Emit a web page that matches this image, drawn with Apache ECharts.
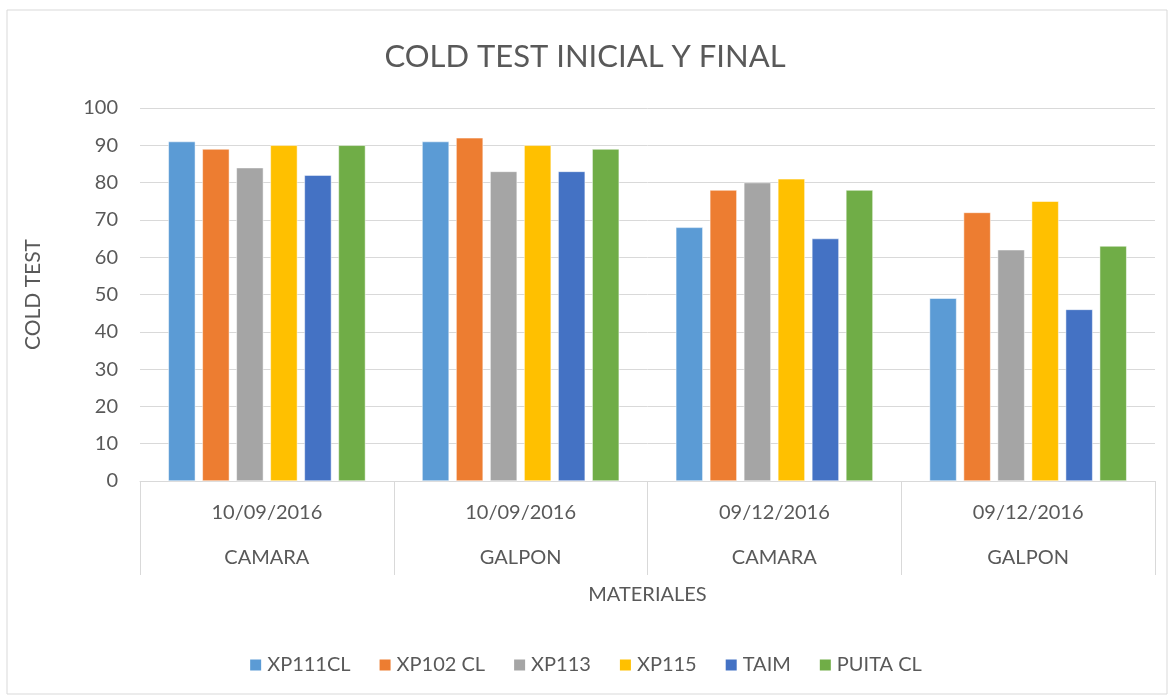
<!DOCTYPE html>
<html><head><meta charset="utf-8">
<script src="https://cdn.jsdelivr.net/npm/echarts@6/dist/echarts.min.js"></script>
<style>html,body{margin:0;padding:0;background:#fff}#c{width:1170px;height:697px}</style>
</head><body><div id="c"></div>
<script>
const dates = ["10/09/2016","10/09/2016","09/12/2016","09/12/2016"];
const places = ["CAMARA","GALPON","CAMARA","GALPON"];
const seriesNames = ["XP111CL","XP102 CL","XP113","XP115","TAIM","PUITA CL"];
const XP111CL = [91,91,68,49];
const XP102CL = [89,92,78,72];
const XP113 = [84,83,80,62];
const XP115 = [90,90,81,75];
const TAIM = [82,83,65,46];
const PUITACL = [90,89,78,63];
const values = [XP111CL,XP102CL,XP113,XP115,TAIM,PUITACL];
const colors = ["#5b9bd5","#ed7d31","#a5a5a5","#ffc000","#4472c4","#70ad47"];
const yTicks = {min:0,max:100,interval:10};
const font = "Lato, 'Open Sans', sans-serif";
const chart = echarts.init(document.getElementById('c'));
chart.setOption({
  animation:false,
  textStyle:{fontFamily:font},
  graphic:[{type:'rect',shape:{x:7,y:10,width:1160,height:684},style:{fill:'none',stroke:'#d9d9d9',lineWidth:1}}],
  title:{text:"COLD TEST INICIAL Y FINAL",left:'center',top:36,textStyle:{fontFamily:font,fontSize:31,fontWeight:'normal',color:'#595959'}},
  legend:{data:seriesNames,bottom:17,left:'center',itemWidth:13,itemHeight:13,itemGap:27,icon:'rect',
    textStyle:{fontFamily:font,fontSize:20,color:'#595959'}},
  grid:{left:140,right:15,top:108,bottom:216},
  xAxis:[{type:'category',data:dates,position:'bottom',
      axisLine:{lineStyle:{color:'#d9d9d9'}},
      axisTick:{show:true,length:94,lineStyle:{color:'#d9d9d9'}},
      axisLabel:{fontSize:20,color:'#595959',margin:22,fontFamily:font},
      name:"MATERIALES",nameLocation:'middle',nameGap:104,nameTextStyle:{fontSize:20,color:'#595959',fontFamily:font}},
    {type:'category',data:places,position:'bottom',offset:0,
      axisLine:{show:false},axisTick:{show:false},
      axisLabel:{fontSize:20,color:'#595959',margin:67,fontFamily:font}}],
  yAxis:{type:'value',min:yTicks.min,max:yTicks.max,interval:yTicks.interval,
    axisLine:{show:false},axisTick:{show:false},
    splitLine:{lineStyle:{color:'#d9d9d9',width:1}},
    axisLabel:{fontSize:20,color:'#595959',margin:22,fontFamily:font},
    name:"COLD TEST",nameLocation:'middle',nameGap:96,nameRotate:90,nameTextStyle:{fontSize:21,color:'#595959',fontFamily:font}},
  series:seriesNames.map((n,i)=>({name:n,type:'bar',data:values[i],xAxisIndex:0,
    barWidth:27,barGap:'26%',
    itemStyle:{color:colors[i],borderColor:'#ffffff',borderWidth:0.5}}))
});
</script></body></html>
